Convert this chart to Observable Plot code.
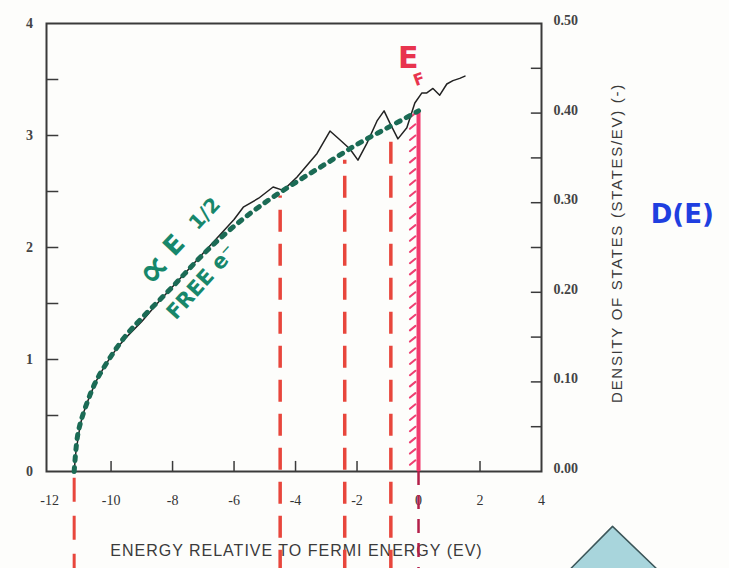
<!DOCTYPE html>
<html>
<head>
<meta charset="utf-8">
<script src="https://cdn.jsdelivr.net/npm/d3@7"></script>
<script src="https://cdn.jsdelivr.net/npm/@observablehq/plot@0.6"></script>
<style>
  html, body { margin: 0; padding: 0; background: #fdfdfb; }
  #chart svg { display: block; }
</style>
</head>
<body>
<div id="chart"></div>
<script>
// ---- data ----
const xTicks = [-12, -10, -8, -6, -4, -2, 0, 2, 4];
const xTickLabels = ["-12", "-10", "-8", "-6", "-4", "-2", "0", "2", "4"];
const yTicks = [0, 1, 2, 3, 4];
const yMinor = [0, 0.5, 1, 1.5, 2, 2.5, 3, 3.5, 4];
const rightTicks = [0, 0.05, 0.1, 0.15, 0.2, 0.25, 0.3, 0.35, 0.4, 0.45, 0.5];
const rightLabelValues = [0, 0.1, 0.2, 0.3, 0.4, 0.5];
const rightLabels = ["0.00", "0.10", "0.20", "0.30", "0.40", "0.50"];
const rightPerLeft = 0.125; // right axis value per left axis unit

// computed density of states (black wiggly line)
const dosE = [-11.2, -11.15, -11.1, -11.0, -10.9, -10.8, -10.65, -10.5, -10.25, -10.0, -9.75, -9.5, -9.0, -8.5, -8.0, -7.5, -7.0, -6.5, -6.0, -5.7,
  -5.2, -4.73, -4.40, -3.95, -3.30, -2.88, -2.55, -2.23, -1.97, -1.68, -1.35, -1.12, -0.93, -0.67, -0.38, -0.12,
  0.11, 0.27, 0.47, 0.69, 0.92, 1.12, 1.34, 1.51];
const dosD = [0, 0.16, 0.25, 0.42, 0.52, 0.60, 0.70, 0.80, 0.92, 1.03, 1.12, 1.20, 1.34, 1.50, 1.65, 1.80, 1.95, 2.10, 2.25, 2.36,
  2.44, 2.54, 2.51, 2.63, 2.84, 3.04, 2.96, 2.88, 2.78, 2.93, 3.13, 3.22, 3.11, 2.97, 3.07, 3.29,
  3.38, 3.38, 3.42, 3.36, 3.46, 3.49, 3.51, 3.53];

// free-electron E^1/2 curve (green dashed)
const freeE = [-11.2, -11.1, -11.0, -10.8, -10.5, -10.0, -9.5, -9.0, -8.0, -7.0, -6.0, -5.0, -4.0, -3.0, -2.0, -1.0, 0];
const freeD = [0, 0.30, 0.43, 0.60, 0.80, 1.03, 1.22, 1.37, 1.65, 1.94, 2.19, 2.40, 2.58, 2.75, 2.92, 3.07, 3.22];

// hand-drawn red dashed verticals: energy and top of the line
const redX = [-4.5, -2.4, -0.9];
const redTop = [2.46, 2.78, 2.94];
const fermiE = 0;
const fermiTop = 3.22;
const bottomOfPage = -0.9;
const bandBottomE = -11.2;

// ---- tables built from the arrays ----
const dos = dosE.map((e, i) => ({e, d: dosD[i]}));
const free = freeE.map((e, i) => ({e, d: freeD[i]}));
const reds = redX.map((x, i) => ({x, top: redTop[i]}));
const hatch = d3.range(0.06, fermiTop - 0.05, 0.1);
const tri = [{x: 4.58, y: -0.97}, {x: 6.31, y: -0.49}, {x: 8.13, y: -0.97}];

const serif = "Liberation Serif";
const sans = "Liberation Sans";
const hand = "DejaVu Sans";

const chart = Plot.plot({
  width: 729,
  height: 568,
  marginLeft: 46,
  marginRight: 188,
  marginTop: 23,
  marginBottom: 97,
  x: {domain: [-12.1, 4], axis: null},
  y: {domain: [0, 4], axis: null},
  style: {background: "#fdfdfb", overflow: "visible"},
  marks: [
    // triangle at bottom right
    Plot.line(tri, {x: "x", y: "y", fill: "#a8d5dc", stroke: "#3c5659", strokeWidth: 1.5}),
    // frame
    Plot.frame({stroke: "#3a3a3a", strokeWidth: 2}),
    // inward ticks
    Plot.ruleX(xTicks.slice(1, -1), {y1: 0, y2: 0.09, stroke: "#3a3a3a", strokeWidth: 1.5}),
    Plot.ruleY(yMinor.slice(1, -1), {x1: -12.1, x2: -11.7, stroke: "#3a3a3a", strokeWidth: 1.5}),
    Plot.ruleY(rightTicks.slice(1, -1).map(r => r / rightPerLeft), {x1: 3.67, x2: 4, stroke: "#3a3a3a", strokeWidth: 1.5}),
    // tick labels
    Plot.text(xTicks, {x: d => d, y: 0, dy: 29, text: (d, i) => xTickLabels[i], fontFamily: serif, fontSize: 14, fill: "#333"}),
    Plot.text(yTicks, {x: -12.1, y: d => d, dx: -17, text: d => String(d), fontFamily: serif, fontSize: 14, fontWeight: "bold", fill: "#444"}),
    Plot.text(rightLabelValues, {x: 4, y: d => d / rightPerLeft, dx: 12, dy: -3, textAnchor: "start", text: (d, i) => rightLabels[i], fontFamily: serif, fontSize: 14, fontWeight: "bold", fill: "#444"}),
    // axis titles
    Plot.text(["ENERGY RELATIVE TO FERMI ENERGY (EV)"], {x: -3.97, y: -0.705, fontFamily: sans, fontSize: 16, fill: "#3a3a3a"}),
    Plot.text(["DENSITY OF STATES (STATES/EV) (-)"], {x: 6.47, y: 2.04, rotate: -90, fontFamily: sans, fontSize: 15, fill: "#3a3a3a"}),
    // red dashed verticals
    Plot.ruleX(reds, {x: "x", y1: bottomOfPage, y2: "top", stroke: "#e8463c", strokeWidth: 3.5, strokeDasharray: "22,12"}),
    Plot.ruleX([bandBottomE], {y1: -0.06, y2: bottomOfPage, stroke: "#e8463c", strokeWidth: 3, strokeDasharray: "24,14"}),
    Plot.ruleX([fermiE], {y1: 0, y2: bottomOfPage, stroke: "#b3204a", strokeWidth: 2.5, strokeDasharray: "14,10"}),
    // hatch marks left of the Fermi line
    Plot.link(hatch, {x1: -0.28, y1: d => d, x2: -0.1, y2: d => d + 0.04, stroke: "#ee3f72", strokeWidth: 2, strokeLinecap: "round"}),
    // Fermi level solid line
    Plot.ruleX([fermiE], {y1: 0, y2: fermiTop, stroke: "#f23a6e", strokeWidth: 4}),
    // DOS black line
    Plot.line(dos, {x: "e", y: "d", stroke: "#222", strokeWidth: 1.5}),
    // free electron curve
    Plot.line(free, {x: "e", y: "d", stroke: "#1b6b55", strokeWidth: 5, strokeDasharray: "4,7", strokeLinecap: "round", curve: "catmull-rom"}),
    // handwritten annotations
    Plot.text(["E"], {x: -0.33, y: 3.69, fontFamily: hand, fontWeight: "bold", fontSize: 30, fill: "#e8344e"}),
    Plot.text(["F"], {x: 0.02, y: 3.5, rotate: -20, fontFamily: hand, fontWeight: "bold", fontSize: 16, fill: "#e8344e"}),
    Plot.text(["\u221D"], {x: -8.62, y: 1.8, rotate: -47, fontFamily: hand, fontWeight: "bold", fontSize: 40, fill: "#17876b"}),
    Plot.text(["E"], {x: -7.95, y: 2.02, rotate: -47, fontFamily: hand, fontWeight: "bold", fontSize: 26, fill: "#17876b"}),
    Plot.text(["1/2"], {x: -6.95, y: 2.3, rotate: -47, fontFamily: hand, fontWeight: "bold", fontSize: 20, fill: "#17876b"}),
    Plot.text(["FREE e\u207B"], {x: -7.06, y: 1.69, rotate: -48, fontFamily: hand, fontWeight: "bold", fontSize: 21, fill: "#17876b"}),
    Plot.text(["D(E)"], {x: 8.58, y: 2.29, fontFamily: hand, fontWeight: "bold", fontSize: 26, fill: "#1f3fe0"})
  ]
});
document.getElementById("chart").appendChild(chart);
d3.select(chart).selectAll("text")
  .filter(function() { return this.textContent.startsWith("ENERGY"); })
  .style("letter-spacing", "1px");
d3.select(chart).selectAll("text")
  .filter(function() { return this.textContent.startsWith("DENSITY"); })
  .style("letter-spacing", "1.7px");
</script>
</body>
</html>
